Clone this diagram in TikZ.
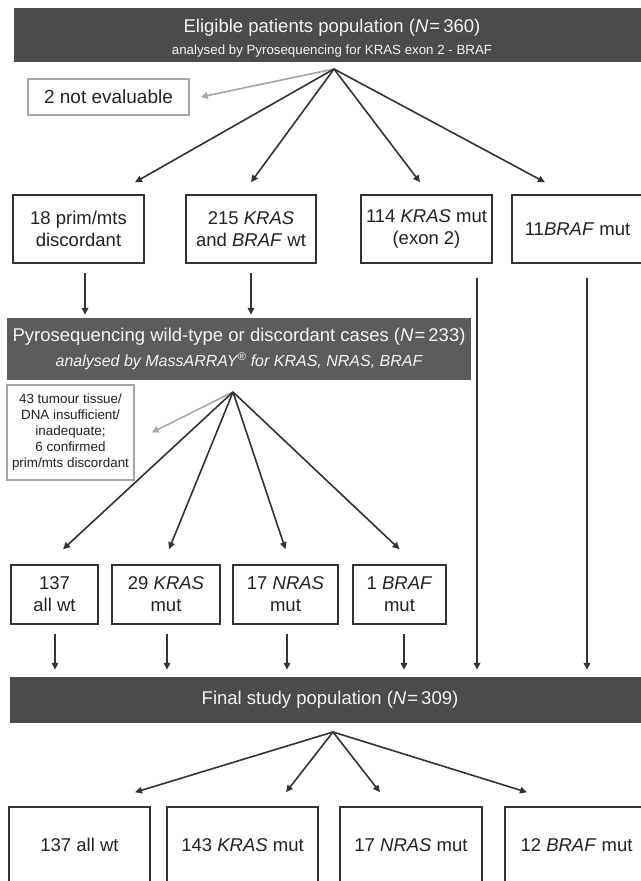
\documentclass[tikz,border=0pt]{standalone}
\usepackage{fontspec}
\setmainfont{Liberation Sans}
\usetikzlibrary{arrows.meta}

\definecolor{barfill}{HTML}{4B4B4D}
\definecolor{barfilltwo}{HTML}{5C5C5E}
\definecolor{bartext}{HTML}{F4F4F4}
\definecolor{ink}{HTML}{222222}
\definecolor{boxline}{HTML}{333333}
\definecolor{greyline}{HTML}{A6A6A6}

\newcommand{\mainsize}{\fontsize{18.5}{22}\selectfont}
\newcommand{\subsize}{\fontsize{13.3}{16}\selectfont}
\newcommand{\notesize}{\fontsize{13.4}{16}\selectfont}

\begin{document}
\begin{tikzpicture}[x=1pt,y=1pt,
  bar/.style={fill=barfill,text=bartext,inner sep=0pt,align=center,font=\mainsize},
  stage/.style={draw=boxline,line width=1.5pt,fill=white,text=ink,inner sep=0pt,align=center,font=\mainsize},
  dropped/.style={draw=greyline,line width=1.5pt,fill=white,text=ink,inner sep=0pt,align=center},
  arr/.style={draw=boxline,line width=1.6pt,-{Triangle[length=7pt,width=6.5pt]}},
  greyarr/.style={arr,draw=greyline}]

\useasboundingbox (0,0) rectangle (640,-881);
\fill[white] (0,0) rectangle (640,-881);

% Pyrosequencing of all patients
\node[bar,minimum width=636pt,minimum height=54pt] (eligible) at (332,-35)
  {\rule{0pt}{20pt}Eligible patients population (\textit{N}\kern1pt=\,360)\\{\subsize analysed by Pyrosequencing for KRAS exon 2 - BRAF}};
\node[dropped,font=\fontsize{19}{22}\selectfont,minimum width=161pt,minimum height=36pt] (noteval) at (108.5,-97) {2 not evaluable};

\node[stage,minimum width=131pt,minimum height=68pt] (disc) at (78.5,-229) {18 prim/mts\\discordant};
\node[stage,minimum width=130pt,minimum height=68pt] (wt) at (251,-229) {215 \textit{KRAS}\\and \textit{BRAF} wt};
\node[stage,minimum width=131pt,minimum height=68pt] (kras) at (426.5,-229) {114 \textit{KRAS} mut\\(exon 2)};
\node[stage,minimum width=131pt,minimum height=68pt] (braf) at (577.5,-229) {11\textit{BRAF} mut};

\coordinate (fan1) at (334,-69);
\draw[greyarr] (fan1) -- ([xshift=11pt]noteval.east);
\draw[arr] (fan1) -- ([shift={(56.5,12)}]disc.north);
\draw[arr] (fan1) -- ([yshift=12pt]wt.north);
\draw[arr] (fan1) -- ([shift={(-6.5,12)}]kras.north);
\draw[arr] (fan1) -- ([shift={(-32.5,12)}]braf.north);

% MassARRAY of wild-type and discordant cases
\node[bar,fill=barfilltwo,minimum width=464pt,minimum height=62pt] (massarray) at (239,-349)
  {Pyrosequencing wild-type or discordant cases (\textit{N}\kern1pt=\,233)\\[3pt]{\fontsize{16}{19}\selectfont\itshape analysed by MassARRAY\textsuperscript{\textregistered} for KRAS, NRAS, BRAF}};

\draw[arr,shorten <=9pt,shorten >=3pt] ([xshift=6.5pt]disc.south) -- ([xshift=6.5pt]disc.south |- massarray.north);
\draw[arr,shorten <=9pt,shorten >=3pt] (wt.south) -- (wt.south |- massarray.north);

\node[dropped,font=\notesize,minimum width=127pt,minimum height=95pt] (lost) at (70.5,-432.5)
  {43 tumour tissue/\\DNA insufficient/\\inadequate;\\6 confirmed\\prim/mts discordant};

\node[stage,minimum width=87pt,minimum height=59pt] (allwt) at (54.5,-594.5) {137\\all wt};
\node[stage,minimum width=108pt,minimum height=59pt] (kmut) at (166,-594.5) {29 \textit{KRAS}\\mut};
\node[stage,minimum width=105pt,minimum height=59pt] (nmut) at (285.5,-594.5) {17 \textit{NRAS}\\mut};
\node[stage,minimum width=93pt,minimum height=59pt] (bmut) at (399.5,-594.5) {1 \textit{BRAF}\\mut};

\coordinate (fan2) at (233,-392);
\draw[greyarr] (fan2) -- ([xshift=17pt]lost.east);
\draw[arr] (fan2) -- ([shift={(8.5,15)}]allwt.north);
\draw[arr] (fan2) -- ([shift={(3,15)}]kmut.north);
\draw[arr] (fan2) -- ([yshift=15pt]nmut.north);
\draw[arr] (fan2) -- ([yshift=15pt]bmut.north);

% Final population
\node[bar,minimum width=640pt,minimum height=46pt] (final) at (330,-700) {Final study population (\textit{N}\kern1pt=\,309)};

\foreach \b/\dx in {allwt/0.5,kmut/1,nmut/1.5,bmut/4.5}
  \draw[arr,shorten <=9pt,shorten >=7pt] ([xshift=\dx pt]\b.south) -- ([xshift=\dx pt]\b.south |- final.north);
\draw[arr,shorten <=14pt,shorten >=7pt] ([xshift=50.5pt]kras.south) -- ([xshift=50.5pt]kras.south |- final.north);
\draw[arr,shorten <=14pt,shorten >=7pt] ([xshift=9.5pt]braf.south) -- ([xshift=9.5pt]braf.south |- final.north);

\node[stage,minimum width=141pt,minimum height=76pt] (allwtfin) at (79.5,-845) {137 all wt};
\node[stage,minimum width=151pt,minimum height=76pt] (krasfin) at (242.5,-845) {143 \textit{KRAS} mut};
\node[stage,minimum width=142pt,minimum height=76pt] (nrasfin) at (411,-845) {17 \textit{NRAS} mut};
\node[stage,minimum width=143pt,minimum height=76pt] (braffin) at (576.5,-845) {12 \textit{BRAF} mut};

\coordinate (fan3) at (333,-732);
\draw[arr] (fan3) -- ([shift={(55.5,14)}]allwtfin.north);
\draw[arr] (fan3) -- ([shift={(43.5,14)}]krasfin.north);
\draw[arr] (fan3) -- ([shift={(-31,14)}]nrasfin.north);
\draw[arr] (fan3) -- ([shift={(-49.5,14)}]braffin.north);

\end{tikzpicture}
\end{document}
